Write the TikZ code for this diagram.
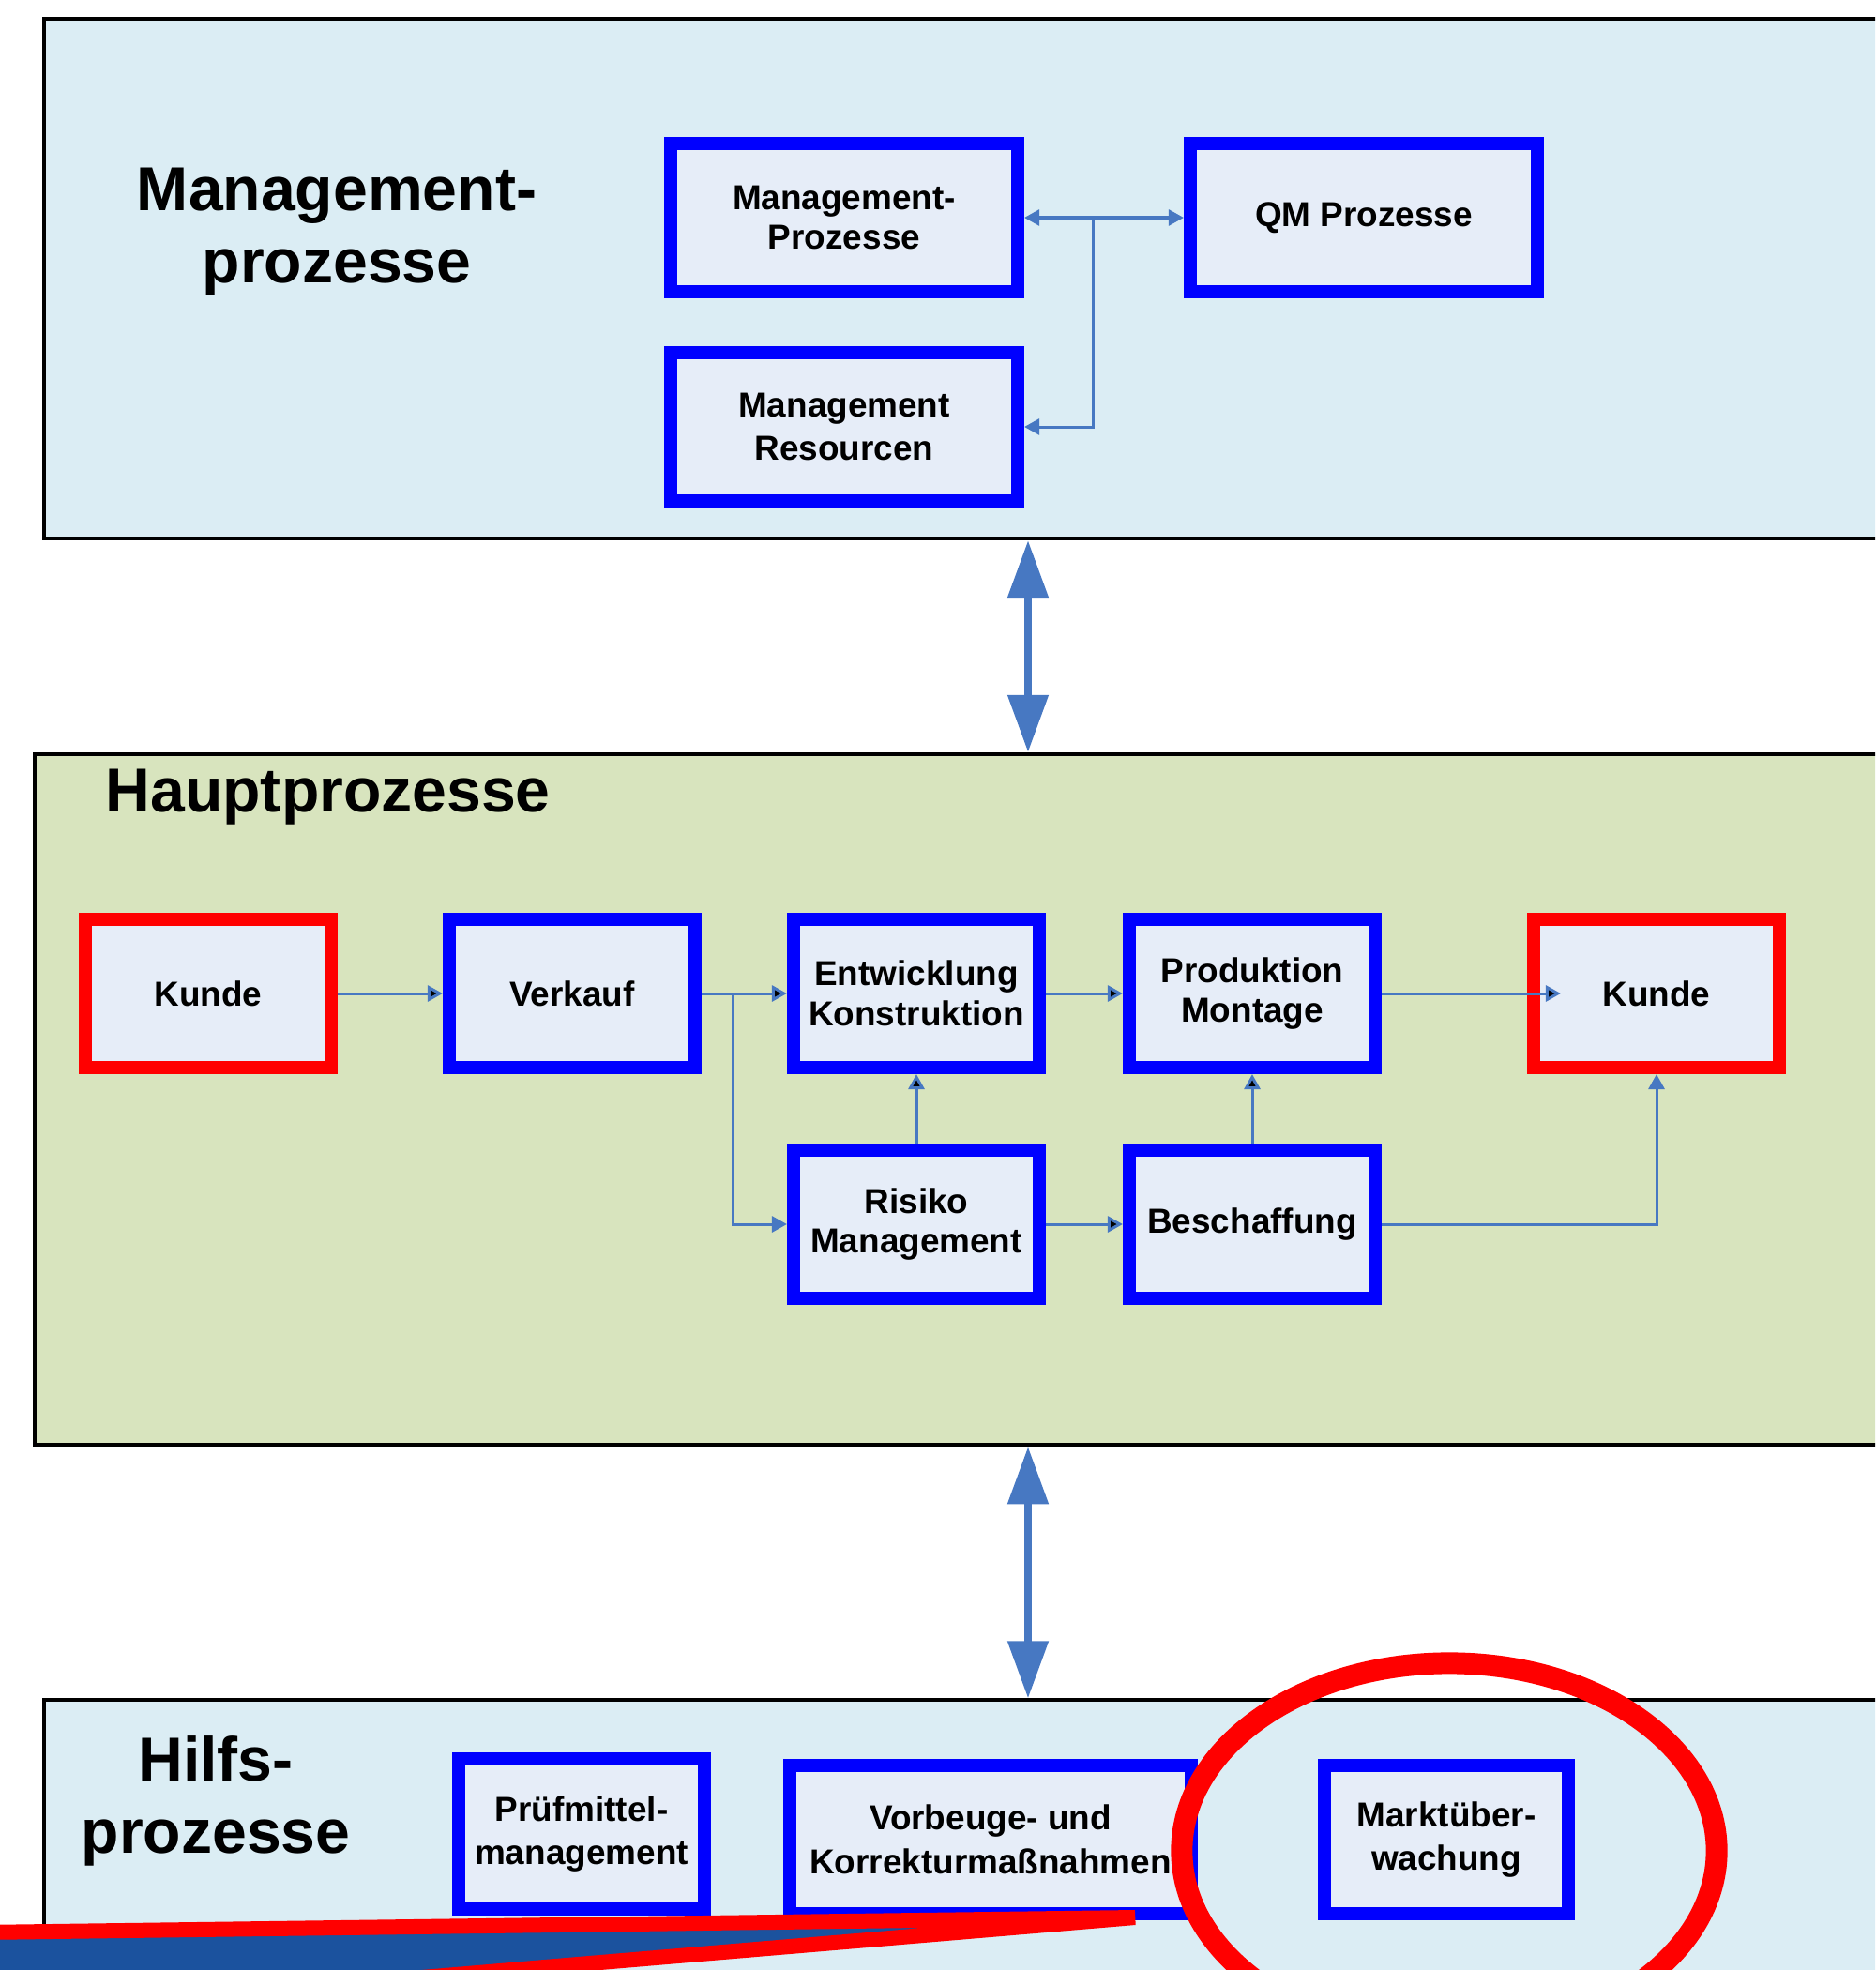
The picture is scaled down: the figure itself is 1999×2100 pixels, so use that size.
\documentclass[tikz,border=0pt]{standalone}
\usepackage{fontspec}
\setmainfont{Liberation Sans}
\usepackage{tikz}
\usetikzlibrary{arrows.meta}
\definecolor{boxblue}{RGB}{0,0,255}
\definecolor{boxred}{RGB}{255,0,0}
\definecolor{boxfill}{RGB}{230,237,248}
\definecolor{linkblue}{RGB}{71,120,194}
\definecolor{panelcyan}{RGB}{219,237,244}
\definecolor{panelgreen}{RGB}{216,228,190}
\definecolor{pointerblue}{RGB}{27,82,158}

\begin{document}
\begin{tikzpicture}[x=0.01cm,y=-0.01cm,
	panel/.style={draw=black,line width=0.04cm,minimum width=20.96cm,inner sep=0},
	procbox/.style={draw=boxblue,fill=boxfill,line width=0.14cm,minimum width=2.62cm,minimum height=1.58cm,align=center,font=\bfseries\fontsize{10.5}{12.2}\selectfont},
	custbox/.style={procbox,draw=boxred},
	helpbox/.style={procbox,font=\bfseries\fontsize{10.5}{13.3}\selectfont},
	panellabel/.style={inner sep=0,align=center,font=\bfseries\fontsize{18.8}{22}\selectfont},
	conn/.style={draw=linkblue,line width=0.03cm,-{Triangle[length=0.16cm,width=0.17cm]}},
	bigarrow/.style={draw=linkblue,line width=0.08cm,{Triangle[length=0.61cm,width=0.42cm]}-{Triangle[length=0.61cm,width=0.42cm]}}]
		\useasboundingbox (0,0) rectangle (1999,2100);
		\clip (0,0) rectangle (1999,2100);
		%
		\node[panel,fill=panelcyan,minimum height=5.54cm] (mgmtpanel) at (1096,297) {};
		\node[panel,fill=panelgreen,minimum width=21.16cm,minimum height=7.36cm] (mainpanel) at (1096,1172) {};
		\node[panel,fill=panelcyan,minimum height=4.87cm] (helppanel) at (1096,2056) {};
		%
		\node[panellabel] (mgmtlabel) at (359,247) {Management-\\prozesse};
		\node[panellabel,anchor=west] (mainlabel) at (112,850) {Hauptprozesse};
		\node[panellabel] (helplabel) at (230,1920) {Hilfs-\\prozesse};
		%
		\node[procbox,minimum width=3.70cm] (mgmtproz) at (900,232) {Management-\\Prozesse};
		\node[procbox,minimum width=3.70cm] (qmproz) at (1454,232) {QM Prozesse};
		\node[procbox,minimum width=3.70cm,font=\bfseries\fontsize{10.5}{13}\selectfont] (mgmtres) at (900,455) {Management\\Resourcen};
		\coordinate (mjunc) at (1165,232);
		%
		\draw[conn] (mjunc) -- (mgmtproz);
		\draw[conn] (mjunc) -- (qmproz);
		\draw[conn] (mjunc) |- (mgmtres);
		%
		\node[custbox] (kunde) at (222,1059) {Kunde};
		\node[procbox] (verkauf) at (610,1059) {Verkauf};
		\node[procbox] (entw) at (977,1059) {Entwicklung\\Konstruktion};
		\node[procbox] (prod) at (1335,1059) {Produktion\\Montage};
		\node[custbox] (kundeout) at (1766,1059) {Kunde};
		\node[procbox] (risiko) at (977,1305) {Risiko\\Management};
		\node[procbox] (besch) at (1335,1305) {Beschaffung};
		\coordinate (vsplit) at (781,1059);
		%
		\path[conn] (kunde) edge (verkauf)
			(verkauf) edge (entw)
			(entw) edge (prod)
			(prod) edge[shorten >=-0.36cm] (kundeout)
			(risiko) edge (entw)
			(risiko) edge (besch)
			(besch) edge (prod);
		\draw[conn] (vsplit) |- (risiko);
		\draw[conn] (besch) -| (kundeout);
		%
		\node[helpbox,minimum height=1.59cm] (pruef) at (620,1955) {Prüfmittel-\\management};
		\node[helpbox,minimum width=4.28cm] (vorbeuge) at (1056,1961) {Vorbeuge- und\\Korrekturmaßnahmen};
		\node[helpbox,minimum width=2.60cm] (markt) at (1542,1961) {Marktüber-\\wachung};
		%
		\draw[bigarrow] (mgmtpanel.south) -- (mainpanel.north);
		\draw[bigarrow] (mainpanel.south) -- (helppanel.north);
		%
		\draw[boxred,line width=0.16cm,fill=pointerblue] (-100,2061) -- (1210,2044) -- (307,2120) -- (-100,2300) -- cycle;
		\draw[boxred,line width=0.23cm] (1545,1973) ellipse [x radius=2.85cm,y radius=2cm];
	\end{tikzpicture}
\end{document}
